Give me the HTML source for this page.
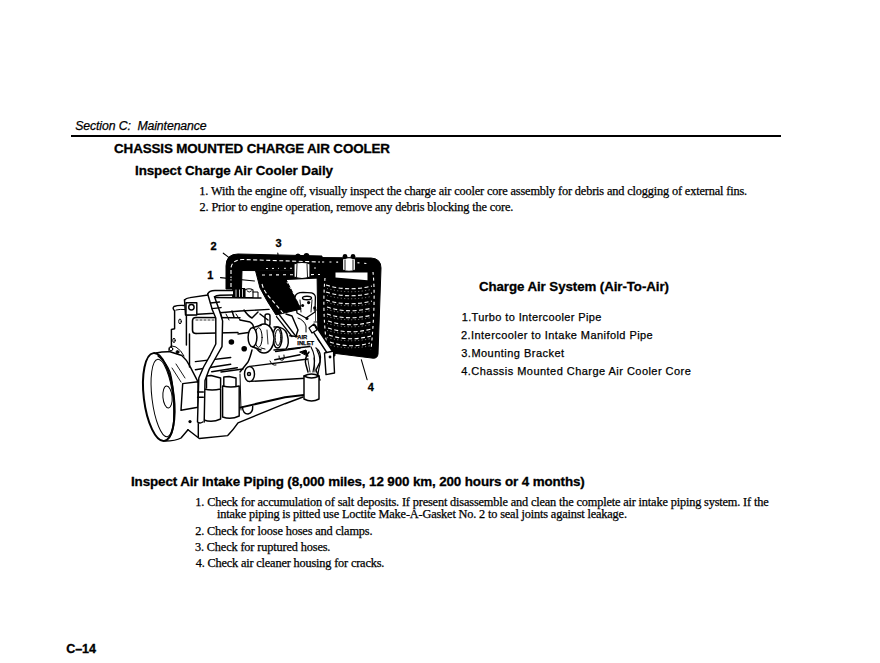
<!DOCTYPE html>
<html><head><meta charset="utf-8">
<style>
html,body{margin:0;padding:0;background:#fff;}
body{width:880px;height:663px;position:relative;overflow:hidden;color:#000;}
.t{position:absolute;white-space:pre;line-height:20px;}
.sb{font-family:"Liberation Sans",sans-serif;font-weight:bold;-webkit-text-stroke:0.3px #000;}
.s{font-family:"Liberation Sans",sans-serif;-webkit-text-stroke:0.25px #000;}
.si{font-family:"Liberation Sans",sans-serif;font-style:italic;-webkit-text-stroke:0.25px #000;}
.r{font-family:"Liberation Serif",serif;-webkit-text-stroke:0.25px #000;}
</style></head><body>
<div class="t si" style="left:75.17px;top:115.86px;font-size:12.3px;letter-spacing:-0.111px;">Section C:  Maintenance</div>
<div class="t sb" style="left:114.09px;top:139.0px;font-size:13.4px;letter-spacing:-0.127px;">CHASSIS MOUNTED CHARGE AIR COOLER</div>
<div class="t sb" style="left:135.03px;top:161.1px;font-size:13.4px;letter-spacing:-0.082px;">Inspect Charge Air Cooler Daily</div>
<div class="t r" style="left:199.34px;top:180.85px;font-size:12.3px;letter-spacing:-0.147px;">1. With the engine off, visually inspect the charge air cooler core assembly for debris and clogging of external fins.</div>
<div class="t r" style="left:199.59px;top:196.8px;font-size:12.3px;letter-spacing:-0.149px;">2. Prior to engine operation, remove any debris blocking the core.</div>
<div class="t sb" style="left:478.97px;top:276.9px;font-size:13.3px;letter-spacing:-0.073px;">Charge Air System (Air-To-Air)</div>
<div class="t s" style="left:461.65px;top:307.13px;font-size:11.0px;letter-spacing:0.384px;">1.Turbo to Intercooler Pipe</div>
<div class="t s" style="left:461.02px;top:325.2px;font-size:11.0px;letter-spacing:0.433px;">2.Intercooler to Intake Manifold Pipe</div>
<div class="t s" style="left:461.25px;top:342.6px;font-size:11.0px;letter-spacing:0.478px;">3.Mounting Bracket</div>
<div class="t s" style="left:461.25px;top:360.83px;font-size:11.0px;letter-spacing:0.462px;">4.Chassis Mounted Charge Air Cooler Core</div>
<div class="t sb" style="left:131.03px;top:472.0px;font-size:13.4px;letter-spacing:-0.12px;">Inspect Air Intake Piping (8,000 miles, 12 900 km, 200 hours or 4 months)</div>
<div class="t r" style="left:195.37px;top:491.5px;font-size:12.3px;letter-spacing:-0.156px;">1. Check for accumulation of salt deposits. If present disassemble and clean the complete air intake piping system. If the</div>
<div class="t r" style="left:216.95px;top:503.5px;font-size:12.3px;letter-spacing:-0.16px;">intake piping is pitted use Loctite Make-A-Gasket No. 2 to seal joints against leakage.</div>
<div class="t r" style="left:195.17px;top:520.51px;font-size:12.3px;letter-spacing:-0.141px;">2. Check for loose hoses and clamps.</div>
<div class="t r" style="left:194.88px;top:536.95px;font-size:12.3px;letter-spacing:-0.14px;">3. Check for ruptured hoses.</div>
<div class="t r" style="left:195.67px;top:552.76px;font-size:12.3px;letter-spacing:-0.169px;">4. Check air cleaner housing for cracks.</div>
<div class="t sb" style="left:66.15px;top:638.59px;font-size:12.6px;letter-spacing:-0.067px;">C–14</div>
<div style="position:absolute;left:71px;top:135px;width:710px;height:2px;background:#000;"></div>
<svg style="position:absolute;left:0;top:0" width="880" height="663" viewBox="0 0 880 663">
<!-- ===== ENGINE LINE DRAWING ===== -->
<g fill="none" stroke="#000" stroke-width="1.45" stroke-linejoin="round" stroke-linecap="round">
<!-- flywheel front face -->
<ellipse cx="158.8" cy="397" rx="15" ry="44.2" transform="rotate(-7 158.8 397)" stroke-width="2"/>
<ellipse cx="162.5" cy="398" rx="10.5" ry="39" transform="rotate(-7 162.5 398)" stroke-width="1"/>
<ellipse cx="167.5" cy="397" rx="4.6" ry="11" transform="rotate(-5 167.5 397)" stroke-width="1"/>
<path d="M158,356 Q166,362 170,372 Q175,390 173.7,425 Q172,436 168.6,438" stroke-width="1.3"/>
<!-- flywheel housing -->
<path d="M156,353 Q163,351.5 170,351.8 L181.8,355.5 Q187,360 190,366.4 L198,381.8"/>
<path d="M164.5,441 Q176,441 181,438 L188,429.8"/>
<path d="M172,368 L181,382 M176,364 L185,378" stroke-width="0.9"/>
<!-- housing lug -->
<path d="M169,351.5 Q168,346 172,346 L176,347 Q181,350 184,356" stroke-width="1"/>
<circle cx="171" cy="349" r="1.8" stroke-width="1"/>
<circle cx="177.5" cy="352" r="1.5" fill="#000" stroke-width="0.8"/>
<!-- bracket plate -->
<path d="M182.7,383.6 L198,381.8 L198,407.3 L181,410.3 Z"/>
<!-- oil pan -->
<path d="M188,429.8 L199.3,438.5 L227.7,435.6 Q233,430 238,422.8 L285,403.7 L303,397"/>
<path d="M198.3,423.6 L198.3,437"/>
<path d="M240,407.6 L285,397.3 L306,394.7" stroke-width="2"/>
<path d="M242.4,407 Q243,414 248,414 Q253,413 252.7,406.3"/>
<!-- front cover / block left -->
<path d="M174.6,310.8 L174.6,328.8 L171.4,329.5 L171.4,346.7"/>
<path d="M174.6,310.8 Q172,308 174,306.5 Q178,305 184,305.5"/>
<path d="M176,310 Q180,309 185,309.5" stroke-width="1"/>
<path d="M186.4,316 L186.4,345 M189.5,334 L189.5,367"/>
<ellipse cx="180" cy="321.4" rx="1.3" ry="2.4" stroke-width="1"/>
<ellipse cx="174" cy="340.4" rx="1.2" ry="2.2" stroke-width="1"/>
<!-- rocker cover -->
<path d="M184.5,300 Q186,298 190,297.6 L208,295"/>
<path d="M184.5,300 L185.5,315 L214.5,313.2 L240,311 L269,309.4"/>
<path d="M215,297.5 L261,298"/>
<rect x="186" y="302.7" width="10.8" height="12.3" fill="#fff"/>
<circle cx="191.4" cy="307.3" r="2.7"/>
<!-- intake manifold tube -->
<path d="M196,317.5 L240,317.7 M196,333.5 L238,332.5"/>
<path d="M196,317.5 Q192.5,317.5 192.5,321 L192.5,330 Q192.5,333.5 196,333.5" stroke-width="1.6"/>
<path d="M196,320 L215,320" stroke-width="0.8" stroke-dasharray="2 2"/>
<!-- rocker lugs row -->
<path d="M220,312 L222,318 M232,311 L234,317 M244,310 Q248,316 252,318 L258,312 M260,314 L268,320"/>
<rect x="265" y="314" width="5" height="12" rx="2"/>
<path d="M240,320 L250,322 Q256,326 252,332 L238,334"/>
<path d="M236,314 L240,320 M226,314 L229,320" stroke-width="1"/>
<!-- block lines -->
<path d="M195.4,361.6 L230.7,357.5 M195.4,369.7 L230.7,364.3"/>
<path d="M288,349 L309.8,346.5"/>
<path d="M221,372 L243,369 M211.7,371.7 L237.3,367.8"/>
<!-- filters -->
<path d="M206.5,388 L206.5,376 L211,375.5 L220.6,378 L220.6,388"/>
<path d="M204,389 Q212,391 220.6,389 L220.6,419 Q212,423 204,420 Z" fill="#fff"/>
<path d="M223.8,386 L223.8,377 L229,376.5 L236,378 L236,386"/>
<path d="M222.6,386 Q231,388 239.2,386 L239.2,416 Q231,420 222.6,417 Z" fill="#fff"/>
<path d="M240,374 L241,410" stroke-width="1"/>
<!-- turbo -->
<path d="M274,327 Q284,326 287,334 Q290,344 286,349 L274,350" fill="#fff"/>
<ellipse cx="277.5" cy="337.5" rx="4.5" ry="10.5" fill="#fff"/>
<ellipse cx="278" cy="337.5" rx="2.8" ry="8" stroke-width="1"/>
<ellipse cx="264" cy="338.5" rx="10" ry="14.5" fill="#fff" stroke-width="1.5"/>
<path d="M252.5,327.8 L261,325 L261,351 L252.5,346.8 Z" fill="#fff" stroke="none"/>
<path d="M252.5,327.8 L261,325.2 M252.5,346.8 L261,350" />
<ellipse cx="258.5" cy="337.5" rx="3.6" ry="9.8" stroke-width="1"/>
<ellipse cx="252.5" cy="337.3" rx="4.4" ry="9.5" fill="#fff" stroke-width="1.5"/>
<path d="M267,330 L268,344" stroke-width="0.8"/>
<path d="M261,348 L265,349" stroke-width="1"/>
<path d="M276.5,316.6 L292,336.5 M279.5,315 L294.5,334.5" stroke-width="1.3"/>
<path d="M289.8,335.7 L297,336.5"/>
<path d="M252,350 Q250,358 248,362 L240,372"/>
<path d="M275.6,351.5 L300,348 M274.8,359.8 L300,354.8"/>
<path d="M279,356 Q279,361 283,360 Q285,358 284,355" stroke-width="1"/>
<!-- oil cooler -->
<path d="M250,366.4 L308,359 M250,381.4 L309.8,378"/>
<ellipse cx="249.5" cy="374" rx="5" ry="7.5" fill="#fff"/>
<circle cx="249" cy="374" r="1.5"/>
<path d="M270,361 Q272,366 276,365" stroke-width="1"/>
<!-- turbo elbow & right parts -->
<path d="M295,297 Q296,292.4 303,292.4 L311.6,292.8 Q315.4,294 315.4,297.3 L315,312 L306,318 L297,313 Z" fill="#fff" stroke-width="1.3"/>
<ellipse cx="307" cy="298" rx="4.5" ry="1.8"/>
<path d="M300,300 L301,312 M312,300 L311,312" stroke-width="0.9"/>
<path d="M314,310 L322,310 L322,322 L314,322" stroke-width="0.9"/>
<path d="M315.5,311 L315.5,321 M318,311 L318,321 M320.5,311 L320.5,321" stroke-width="0.7"/>
<path d="M286,314 L292,316 L298,330 L296,336"/>
<path d="M298,318 Q304,320 306,326 L306,332" stroke-width="1"/>
<path d="M311,347 Q316,356 314,366 L313,372 M317,350 Q322,360 319,368 L318,374" stroke-width="1.2"/>
<path d="M300,352 L306,350 L308,356 Z" fill="#000" stroke-width="1"/>
<path d="M316,348 Q322,352 320,362 L316,370 L320,380"/>
<path d="M309,352 Q304,358 306,365 L308,372"/>
<!-- air cleaner -->
<path d="M304,376 Q311.5,372 319,376 L319,399 Q311.5,403 304,399 Z" fill="#fff"/>
<path d="M304,376 Q311.5,380 319,376"/>
<path d="M308,360 L310,372 M314,358 L315,372" stroke-width="0.9"/>
<!-- clamp near hose top -->
<path d="M233,288.5 L245,288.5 L245,297.5 L233,297.5 Z" fill="#000" stroke-width="1"/>
<path d="M236,289.5 L236,296.5 M239.5,289.5 L239.5,296.5 M242.5,289.5 L242.5,296.5" stroke="#fff" stroke-width="0.8"/>
<path d="M245,290 Q249,287.5 253,290 L253,297.5 L245,297.5 Z" fill="#fff" stroke-width="1.1"/>
<path d="M247,291 Q249,293.5 251.5,291" stroke-width="0.9"/>
<path d="M253,292 L258,292 L258,297.5" stroke-width="1"/>
<!-- hose (vertical) -->
<path d="M207.7,294 Q209,290.5 215,290.5 L233,290.5 L233,295 L220,295.3 Q216,295.5 214.5,296.8 L219.2,310 L222.6,320.9 L222,346.6 L215.8,357.5 L209,369.7 L205,380.6 L204.2,422 Q200,424 197.5,422 L198.8,378 L203.6,367 L210.4,354.8 L215.8,344 L215.8,318 L212.4,310 Z" fill="#fff" stroke="none"/>
<path d="M207.7,294 Q209,290.5 215,290.5 L233,290.5"/>
<path d="M214.5,296.8 Q216,295.5 220,295.3 L233,295"/>
<path d="M207.7,294 L212.4,310 L215.8,318 L215.8,344 L210.4,354.8 L203.6,367 L198.8,378 L197.5,422 Q200,424 202.7,422"/>
<path d="M214.5,296.8 L219.2,310 L222.6,320.9 L222,346.6 L215.8,357.5 L209,369.7 L205,380.6 L204.2,422"/>
<path d="M197.6,392 L203.3,392 M197.6,397.3 L203.3,397.3"/>
<path d="M210.5,303 L219.5,302 M212,308.6 L221,307.6"/>
</g>
<g fill="#000">
<circle cx="231.4" cy="342" r="2.8"/>
<circle cx="244.2" cy="348.8" r="2.8"/>
<circle cx="190" cy="421.6" r="1.6"/>
<circle cx="308.6" cy="302.6" r="1.6"/>
<circle cx="302.6" cy="305.6" r="1.5"/>
<circle cx="314.7" cy="307.9" r="1.6"/>
<circle cx="307" cy="318.4" r="1.5"/>
<circle cx="296" cy="336" r="1.5"/>
</g>
<!-- ===== PIPES & CORE ===== -->
<g fill="#000" stroke="#000" stroke-width="1">
<path d="M318,257.5 L371,258 Q381,258.5 381,268 L378,354 Q377.5,358.5 373,358.2 L328,352.5 L318,340 L317,270 Z"/>
<path d="M226,289 L226,266 Q226,254 238,254 L322,256 L322,271 L242,270.5 L241.5,289 Z"/>
<path d="M255.6,271 L320,271 L320,278 L286,279.5 L301,309 L276,315 Q266,300 260,288 Z"/>
</g>
<!-- window in core -->
<path d="M335.5,272.5 L367.5,272.5 L367.5,280.3 L335.5,277.5 Z" fill="#fff"/>
<!-- white dashes -->
<g fill="none" stroke="#fff" stroke-width="1.1" stroke-dasharray="4 2.5" stroke-linecap="butt">
<path d="M231,287 L231,268 Q232,260 242,259.5 L320,262"/>
<path d="M262,284 Q264,292 272,300 L283,313"/>
<path d="M262,275 L320,274.5" stroke-dasharray="3 4"/>
<path d="M326,285 Q348,292 372,286"/>
<path d="M326,292 Q348,299 372,293"/>
<path d="M326,300 Q348,307 372,301"/>
<path d="M327,307 Q348,314 372,308"/>
<path d="M327,314 Q348,321 372,315"/>
<path d="M328,321 Q349,328 371,322"/>
<path d="M328,328 Q349,335 371,329"/>
<path d="M329,335 Q349,342 371,336"/>
<path d="M330,342 Q350,349 370,343"/>
<path d="M373,272 Q376,300 371,350" stroke-dasharray="3 3"/>
<path d="M325,278 Q322,310 327,348" stroke-dasharray="3 3"/>
<path d="M322,262 Q360,262 370,264" stroke-dasharray="2 5"/>
<path d="M266,268.5 L318,268" stroke-dasharray="2 4" stroke-width="0.9"/>
<path d="M287,282 L300,305" stroke-dasharray="2 4" stroke-width="0.9"/>
</g>
<g fill="none" stroke="#fff" stroke-width="0.6" stroke-dasharray="1 2.5" opacity="0.9">
<path d="M327,288.5 Q349,294.5 371,289.5"/>
<path d="M327,295.5 Q349,301.5 371,296.5"/>
<path d="M327,302.5 Q349,308.5 371,303.5"/>
<path d="M327,309.5 Q349,315.5 371,310.5"/>
<path d="M327,316.5 Q349,322.5 371,317.5"/>
<path d="M327,323.5 Q349,329.5 371,324.5"/>
<path d="M327,330.5 Q349,336.5 371,331.5"/>
<path d="M327,337.5 Q349,343.5 371,338.5"/>
<path d="M327,344.5 Q349,350.5 371,345.5"/>
</g>
<!-- clamps -->
<g fill="#fff" stroke="#000" stroke-width="1.2">
<path d="M294,264 Q302,261 310,264 L310,277 Q302,280 294,277 Z"/>
<path d="M297,264 L296.5,277 M307,264 L307.5,277" fill="none" stroke-width="0.9"/>
<path d="M342.5,259 Q349,256.5 355.5,259 L355.5,270 Q349,272.5 342.5,270 Z"/>
<path d="M345,259.5 L345,270 M353,259.5 L353,270" fill="none" stroke-width="0.9"/>
</g>
<g fill="#000">
<ellipse cx="298" cy="257" rx="3" ry="3.5"/><ellipse cx="306.5" cy="256.5" rx="3" ry="3.5"/>
<circle cx="345" cy="256.5" r="2.4"/><circle cx="353" cy="256.5" r="2.4"/>
</g>
<!-- bracket in front of core -->
<g fill="#fff" stroke="#000" stroke-width="1.4" stroke-linejoin="round">
<path d="M310.6,327.7 L315,325 L335,355 L331,359 Z"/>
<path d="M324.5,353 L333.5,351 L334.5,373 L326,374.6 Z"/>
<path d="M309,328 L314,324 L317,330 L312,333 Z"/>
</g>
<circle cx="330" cy="357" r="1.4" fill="#000"/>
<!-- leaders -->
<g fill="none" stroke="#000" stroke-width="1.1" stroke-linecap="round">
<path d="M223.3,253.2 L230.7,258.9"/>
<path d="M220.5,277.6 L254.5,281"/>
<path d="M277.8,253 L280,274"/>
<path d="M361.3,359.7 L367.1,379.6"/>
</g>
<g font-family="Liberation Sans, sans-serif" font-weight="bold" fill="#000" stroke="#000" stroke-width="0.3">
<text x="210.6" y="250" font-size="11">2</text>
<text x="275.6" y="247.3" font-size="11">3</text>
<text x="207.3" y="279" font-size="11">1</text>
<text x="367.8" y="390.5" font-size="11">4</text>
<text x="297.3" y="339.2" font-size="5.8" stroke-width="0.25">AIR</text>
<text x="297.3" y="345" font-size="5.8" stroke-width="0.25">INLET</text>
</g>
</svg>

</body></html>
